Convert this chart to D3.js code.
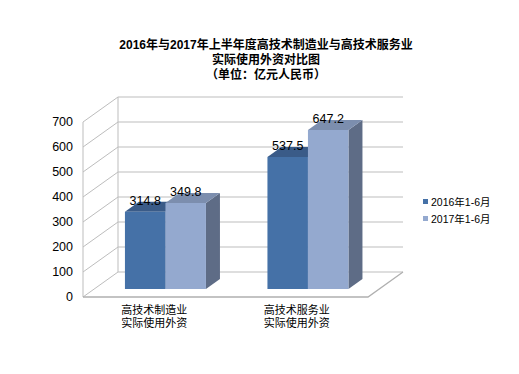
<!DOCTYPE html>
<html><head><meta charset="utf-8">
<script src="https://cdn.jsdelivr.net/npm/d3@7"></script>
<style>
body{margin:0;background:#fff;}
text{font-family:"Liberation Sans",Arial,"Noto Sans CJK SC",sans-serif;}
</style></head>
<body><svg id="c" width="519" height="374"></svg>
<script>
const titleLines = ["2016年与2017年上半年度高技术制造业与高技术服务业", "实际使用外资对比图", "（单位：亿元人民币）"];
const categories = [["高技术制造业","实际使用外资"], ["高技术服务业","实际使用外资"]];
const seriesNames = ["2016年1-6月", "2017年1-6月"];
const values2016 = [314.8, 537.5];
const values2017 = [349.8, 647.2];
const yTicks = [0, 100, 200, 300, 400, 500, 600, 700];

const frontColors = ["#4571a7", "#94a9cf"];
const topColors = ["#3a5b88", "#7c8eae"];
const sideColors = ["#34527a", "#5e6c86"];

const svg = d3.select("#c");
const DX = 35, DY = -25;             // wall depth projection
const proj = (x, y, d) => [x + DX * d, y + DY * d];

const x0 = d3.scaleBand().domain([0, 1]).range([83, 368]).padding(0);
const x1 = d3.scaleBand().domain([0, 1]).range([0, x0.bandwidth()]).paddingInner(0).paddingOuter(0.759);
const y = d3.scaleLinear().domain([0, 700]).range([297, 122]);
const hBar = d3.scaleLinear().domain([0, 700]).range([0, 172]);

// title
const tg = svg.append("g");
titleLines.forEach((t, i) => {
  tg.append("text").attr("x", 266).attr("y", 45 + i * 15).attr("dy", "0.35em")
    .attr("text-anchor", "middle").attr("font-size", 12).attr("font-weight", "bold")
    .attr("fill", "#000").text(t);
});

const grid = "#bdbdbd";
const g = svg.append("g").attr("fill", "none").attr("stroke", grid).attr("stroke-width", 1);
const line = d3.line();
// back wall grid
yTicks.forEach(v => {
  const a = proj(83, y(v), 1), b = proj(368, y(v), 1);
  g.append("path").attr("d", line([a, b]));
  g.append("path").attr("d", line([[83, y(v)], a]));
});
// left wall verticals
g.append("path").attr("d", line([[83, y(0)], [83, y(700)]]));
g.append("path").attr("d", line([proj(83, y(0), 1), proj(83, y(700), 1)]));
// floor
g.append("path").attr("d", line([[83, y(0)], [368, y(0)], proj(368, y(0), 1)]))
  .attr("stroke", "#b0b0b0").attr("stroke-width", 1.3);

// y tick labels
svg.append("g").selectAll("text").data(yTicks).join("text")
  .attr("x", 73).attr("y", d => y(d)).attr("dy", "0.35em").attr("text-anchor", "end")
  .attr("font-size", 12.5).attr("fill", "#000").text(d => d);

// bars
const d0 = 0.32, d1 = 0.72;
const series = [values2016, values2017];
const bg = svg.append("g");
[0, 1].forEach(ci => {
  [0, 1].forEach(si => {
    const v = series[si][ci];
    const xl = x0(ci) + x1(si), xr = xl + x1.bandwidth();
    const base = y(0);
    const top = base - hBar(v);
    const fl = proj(xl, base, d0), fr = proj(xr, base, d0);
    const tl = proj(xl, top, d0), tr = proj(xr, top, d0);
    const btl = proj(xl, top, d1), btr = proj(xr, top, d1), bbr = proj(xr, base, d1);
    bg.append("path").attr("d", line([fr, tr, btr, bbr]) + "Z").attr("fill", sideColors[si]);
    bg.append("path").attr("d", line([tl, tr, btr, btl]) + "Z").attr("fill", topColors[si]);
    bg.append("path").attr("d", line([fl, tl, tr, fr]) + "Z").attr("fill", frontColors[si]);
  });
});
// data labels
[0, 1].forEach(ci => {
  [0, 1].forEach(si => {
    const v = series[si][ci];
    const xl = x0(ci) + x1(si), xr = xl + x1.bandwidth();
    const p = proj((xl + xr) / 2, y(0) - hBar(v), d0);
    svg.append("text").attr("x", p[0]).attr("y", p[1] - 7).attr("text-anchor", "middle")
      .attr("font-size", 12.5).attr("fill", "#000").text(v.toFixed(1));
  });
});

// x labels
categories.forEach((lines, ci) => {
  lines.forEach((t, li) => {
    svg.append("text").attr("x", x0(ci) + x0.bandwidth() / 2).attr("y", 310 + li * 13)
      .attr("dy", "0.35em").attr("text-anchor", "middle").attr("font-size", 11)
      .attr("fill", "#000").text(t);
  });
});

// legend
const lg = svg.append("g");
seriesNames.forEach((n, i) => {
  const cy = 202 + i * 17;
  lg.append("rect").attr("x", 423).attr("y", cy - 3).attr("width", 5).attr("height", 5).attr("fill", frontColors[i]);
  lg.append("text").attr("x", 431).attr("y", cy).attr("dy", "0.35em").attr("font-size", 10.5)
    .attr("fill", "#000").text(n);
});
</script></body></html>
